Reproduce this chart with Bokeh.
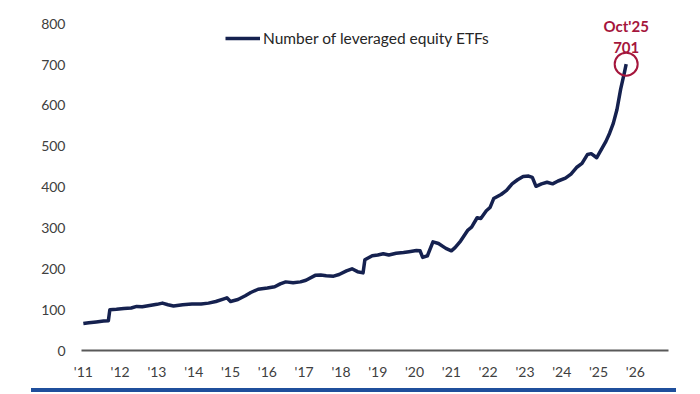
from bokeh.plotting import figure
from bokeh.models import Legend, LegendItem, FixedTicker, ColumnDataSource, Div
from bokeh.layouts import column
from bokeh.embed import file_html
from bokeh.resources import INLINE
from bokeh.core.properties import value

# ---- data (decimal year, number of leveraged equity ETFs) ----
years = [2011.00, 2011.15, 2011.35, 2011.55, 2011.68, 2011.72, 2011.90, 2012.10, 2012.30, 2012.45,
         2012.60, 2012.80, 2013.00, 2013.15, 2013.30, 2013.45, 2013.70, 2013.95, 2014.20, 2014.40,
         2014.60, 2014.80, 2014.90, 2015.00, 2015.20, 2015.40, 2015.55, 2015.75, 2016.00, 2016.20,
         2016.35, 2016.50, 2016.70, 2016.90, 2017.05, 2017.30, 2017.45, 2017.60, 2017.80, 2017.95,
         2018.15, 2018.30, 2018.45, 2018.60, 2018.65, 2018.85, 2019.00, 2019.15, 2019.30, 2019.50,
         2019.70, 2019.85, 2020.05, 2020.15, 2020.22, 2020.35, 2020.50, 2020.65, 2020.85, 2021.00,
         2021.10, 2021.25, 2021.45, 2021.55, 2021.70, 2021.80, 2021.95, 2022.05, 2022.15, 2022.35,
         2022.50, 2022.65, 2022.80, 2022.95, 2023.10, 2023.20, 2023.30, 2023.45, 2023.60, 2023.75,
         2023.90, 2024.10, 2024.25, 2024.40, 2024.55, 2024.70, 2024.80, 2024.95, 2025.10, 2025.20,
         2025.30, 2025.40, 2025.50, 2025.60, 2025.70, 2025.75]
etfs = [66, 68, 70, 72, 73, 100, 101, 103, 104, 108,
        107, 110, 113, 116, 112, 109, 112, 114, 114, 116,
        120, 126, 129, 120, 125, 134, 142, 150, 153, 156,
        163, 168, 166, 168, 172, 184, 185, 183, 182, 186,
        195, 200, 193, 190, 222, 232, 234, 237, 234, 238,
        240, 242, 245, 244, 228, 232, 266, 262, 250, 244,
        252, 268, 295, 302, 325, 323, 342, 350, 372, 382,
        392, 408, 418, 426, 427, 424, 402, 408, 412, 408,
        415, 422, 432, 448, 458, 480, 482, 472, 496, 512,
        532, 556, 590, 640, 680, 701]

tick_years = list(range(2011, 2027))
tick_labels = ["'11", "'12", "'13", "'14", "'15", "'16", "'17", "'18",
               "'19", "'20", "'21", "'22", "'23", "'24", "'25", "'26"]
y_ticks = [0, 100, 200, 300, 400, 500, 600, 700, 800]

series_name = "Number of leveraged equity ETFs"
last_label = "Oct'25"
last_value = etfs[-1]
last_year = years[-1]

FONT = "Lato"
LINE_COLOR = "#15214f"
RED = "#a5163c"
GREY = "#404040"

p = figure(width=692, height=388, x_range=(2010.95, 2026.9), y_range=(0, 830),
           output_backend="svg", toolbar_location=None,
           min_border_left=81, min_border_right=24, min_border_top=11, min_border_bottom=38)
p.outline_line_color = None
p.xgrid.grid_line_color = None
p.ygrid.grid_line_color = None
p.background_fill_color = "white"
p.border_fill_color = "white"

src = ColumnDataSource(dict(x=years, y=etfs))
r = p.line("x", "y", source=src, line_color=LINE_COLOR, line_width=3.5, line_join="round")

# x axis
p.xaxis.ticker = FixedTicker(ticks=tick_years)
p.xaxis.major_label_overrides = {t: l for t, l in zip(tick_years, tick_labels)}
p.xaxis.axis_line_color = "#595959"
p.xaxis.axis_line_width = 2
p.xaxis.major_tick_line_color = None
p.xaxis.minor_tick_line_color = None
p.xaxis.major_tick_out = 0
p.xaxis.major_tick_in = 0
p.xaxis.major_label_standoff = 12
p.xaxis.major_label_text_font = FONT
p.xaxis.major_label_text_font_size = "14px"
p.xaxis.major_label_text_color = GREY

# y axis
p.yaxis.ticker = FixedTicker(ticks=y_ticks)
p.yaxis.axis_line_color = None
p.yaxis.major_tick_line_color = None
p.yaxis.minor_tick_line_color = None
p.yaxis.major_tick_out = 0
p.yaxis.major_tick_in = 0
p.yaxis.major_label_standoff = 16
p.yaxis.major_label_text_font = FONT
p.yaxis.major_label_text_font_size = "14px"
p.yaxis.major_label_text_color = GREY

# annotation for the last point
p.scatter([last_year], [last_value], marker="circle", size=23, fill_color=None,
          line_color=RED, line_width=2)
p.text([last_year], [795], text=[last_label], text_align="center", text_baseline="middle",
       text_font=value(FONT), text_font_style="bold", text_font_size="15px", text_color=RED)
p.text([last_year], [741], text=[str(last_value)], text_align="center", text_baseline="middle",
       text_font=value(FONT), text_font_style="bold", text_font_size="15px", text_color=RED)

legend = Legend(items=[LegendItem(label=series_name, renderers=[r])],
                location=(144, 302), orientation="horizontal",
                glyph_width=35, glyph_height=20, label_standoff=3, padding=0, margin=0,
                border_line_color=None, background_fill_alpha=0,
                label_text_font=FONT, label_text_font_size="15.5px", label_text_color="#262626")
p.add_layout(legend)

# blue rule under the chart
rule = Div(text="", width=645, height=4, margin=(0, 0, 0, 31),
           styles={"background-color": "#1f4f9c"})

layout = column(p, rule, spacing=0)

open("out.html", "w").write(file_html(layout, INLINE))
